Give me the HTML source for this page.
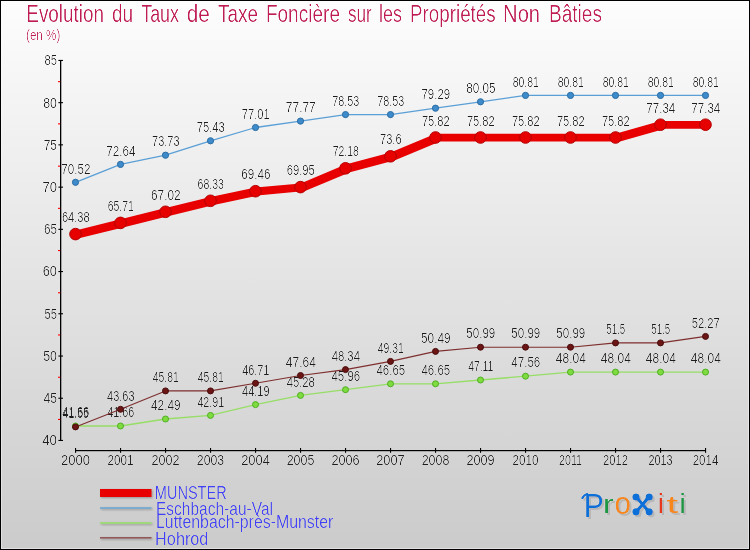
<!DOCTYPE html>
<html lang="fr"><head><meta charset="utf-8">
<title>Evolution du Taux de Taxe Foncière sur les Propriétés Non Bâties</title>
<style>
html,body{margin:0;padding:0;background:#fff;}
body{width:750px;height:550px;overflow:hidden;}
svg{display:block;}
text{font-family:"Liberation Sans", sans-serif;}
.dl{font-size:13.8px;fill:#1c1c1c;text-anchor:middle;}
.ax{font-size:14.3px;fill:#1c1c1c;}
.lg{font-size:18px;fill:#4040f8;}
.tt{fill:#bf1e56;}
</style></head><body>
<svg width="750" height="550" viewBox="0 0 750 550">
<defs>
<linearGradient id="bg" x1="0" y1="0" x2="0" y2="1"><stop offset="0" stop-color="#fdfdfd"/><stop offset="1" stop-color="#cbcbcb"/></linearGradient>
<filter id="sh" filterUnits="userSpaceOnUse" x="0" y="0" width="750" height="550"><feGaussianBlur in="SourceAlpha" stdDeviation="0.8"/><feOffset dx="1" dy="1.2"/><feComponentTransfer><feFuncA type="linear" slope="0.3"/></feComponentTransfer><feMerge><feMergeNode/><feMergeNode in="SourceGraphic"/></feMerge></filter>
<filter id="shl" filterUnits="userSpaceOnUse" x="0" y="0" width="750" height="550"><feGaussianBlur in="SourceAlpha" stdDeviation="0.7"/><feOffset dx="1" dy="1"/><feComponentTransfer><feFuncA type="linear" slope="0.18"/></feComponentTransfer><feMerge><feMergeNode/><feMergeNode in="SourceGraphic"/></feMerge></filter>
<filter id="sh2" filterUnits="userSpaceOnUse" x="560" y="480" width="150" height="60"><feComponentTransfer in="SourceGraphic" result="t"><feFuncA type="linear" slope="1.25" intercept="-0.25"/></feComponentTransfer><feGaussianBlur in="t" stdDeviation="0.7"/><feOffset dx="1.6" dy="1.6"/><feComponentTransfer><feFuncR type="linear" slope="0" intercept="0.2"/><feFuncG type="linear" slope="0" intercept="0.2"/><feFuncB type="linear" slope="0" intercept="0.2"/><feFuncA type="linear" slope="0.28"/></feComponentTransfer><feMerge><feMergeNode/><feMergeNode in="t"/></feMerge></filter>
<filter id="thin" filterUnits="userSpaceOnUse" x="0" y="0" width="750" height="550"><feComponentTransfer><feFuncA type="linear" slope="1.5" intercept="-0.5"/></feComponentTransfer></filter>
<filter id="thin2" filterUnits="userSpaceOnUse" x="0" y="0" width="750" height="550"><feComponentTransfer><feFuncA type="linear" slope="1.5" intercept="-0.5"/></feComponentTransfer></filter>
</defs>
<rect x="0" y="0" width="750" height="550" fill="#000"/>
<rect x="1" y="1" width="748" height="548" fill="url(#bg)"/>
<rect x="1.5" y="1.5" width="747" height="547" fill="none" stroke="#fff" stroke-width="1" opacity="0.4"/>
<g filter="url(#thin2)" class="tt" font-size="23">
<text x="26.30" y="21.7" textLength="77.69" lengthAdjust="spacingAndGlyphs">Evolution</text>
<text x="112.00" y="21.7" textLength="21.22" lengthAdjust="spacingAndGlyphs">du</text>
<text x="141.20" y="21.7" textLength="37.81" lengthAdjust="spacingAndGlyphs">Taux</text>
<text x="186.80" y="21.7" textLength="23.04" lengthAdjust="spacingAndGlyphs">de</text>
<text x="218.00" y="21.7" textLength="39.97" lengthAdjust="spacingAndGlyphs">Taxe</text>
<text x="265.90" y="21.7" textLength="74.11" lengthAdjust="spacingAndGlyphs">Foncière</text>
<text x="348.00" y="21.7" textLength="23.82" lengthAdjust="spacingAndGlyphs">sur</text>
<text x="379.05" y="21.7" textLength="22.98" lengthAdjust="spacingAndGlyphs">les</text>
<text x="410.05" y="21.7" textLength="85.57" lengthAdjust="spacingAndGlyphs">Propriétés</text>
<text x="503.10" y="21.7" textLength="36.92" lengthAdjust="spacingAndGlyphs">Non</text>
<text x="548.90" y="21.7" textLength="53.11" lengthAdjust="spacingAndGlyphs">Bâties</text>
</g>
<g filter="url(#thin2)" class="tt" font-size="15">
<text x="26" y="40.4" textLength="34.3" lengthAdjust="spacingAndGlyphs">(en %)</text>
</g>
<g fill="#000">
<rect x="60" y="60" width="1.3" height="381"/>
<rect x="75" y="450" width="631" height="1.2"/>
<rect x="58.4" y="439.9" width="4.6" height="1.1"/>
<rect x="58.4" y="397.7" width="4.6" height="1.1"/>
<rect x="58.4" y="355.5" width="4.6" height="1.1"/>
<rect x="58.4" y="313.2" width="4.6" height="1.1"/>
<rect x="58.4" y="271.0" width="4.6" height="1.1"/>
<rect x="58.4" y="228.8" width="4.6" height="1.1"/>
<rect x="58.4" y="186.6" width="4.6" height="1.1"/>
<rect x="58.4" y="144.3" width="4.6" height="1.1"/>
<rect x="58.4" y="102.1" width="4.6" height="1.1"/>
<rect x="58.4" y="59.9" width="4.6" height="1.1"/>
<rect x="75.0" y="448" width="1.1" height="4.8"/>
<rect x="120.0" y="448" width="1.1" height="4.8"/>
<rect x="165.0" y="448" width="1.1" height="4.8"/>
<rect x="210.0" y="448" width="1.1" height="4.8"/>
<rect x="255.0" y="448" width="1.1" height="4.8"/>
<rect x="300.0" y="448" width="1.1" height="4.8"/>
<rect x="345.0" y="448" width="1.1" height="4.8"/>
<rect x="390.0" y="448" width="1.1" height="4.8"/>
<rect x="435.0" y="448" width="1.1" height="4.8"/>
<rect x="480.0" y="448" width="1.1" height="4.8"/>
<rect x="525.0" y="448" width="1.1" height="4.8"/>
<rect x="570.0" y="448" width="1.1" height="4.8"/>
<rect x="615.0" y="448" width="1.1" height="4.8"/>
<rect x="660.0" y="448" width="1.1" height="4.8"/>
<rect x="705.0" y="448" width="1.1" height="4.8"/>
</g>
<g fill="#f00">
<rect x="58" y="418.9" width="2.2" height="1.1"/>
<rect x="58" y="376.7" width="2.2" height="1.1"/>
<rect x="58" y="334.4" width="2.2" height="1.1"/>
<rect x="58" y="292.2" width="2.2" height="1.1"/>
<rect x="58" y="250.0" width="2.2" height="1.1"/>
<rect x="58" y="207.8" width="2.2" height="1.1"/>
<rect x="58" y="165.6" width="2.2" height="1.1"/>
<rect x="58" y="123.3" width="2.2" height="1.1"/>
<rect x="58" y="81.1" width="2.2" height="1.1"/>
</g>
<g filter="url(#thin)">
<text class="ax" x="57" y="445.3" text-anchor="end" textLength="14.8" lengthAdjust="spacingAndGlyphs">40</text>
<text class="ax" x="57" y="403.1" text-anchor="end" textLength="13.5" lengthAdjust="spacingAndGlyphs">45</text>
<text class="ax" x="57" y="360.9" text-anchor="end" textLength="13.8" lengthAdjust="spacingAndGlyphs">50</text>
<text class="ax" x="57" y="318.6" text-anchor="end" textLength="12.5" lengthAdjust="spacingAndGlyphs">55</text>
<text class="ax" x="57" y="276.4" text-anchor="end" textLength="14.3" lengthAdjust="spacingAndGlyphs">60</text>
<text class="ax" x="57" y="234.2" text-anchor="end" textLength="13.0" lengthAdjust="spacingAndGlyphs">65</text>
<text class="ax" x="57" y="192.0" text-anchor="end" textLength="14.6" lengthAdjust="spacingAndGlyphs">70</text>
<text class="ax" x="57" y="149.7" text-anchor="end" textLength="13.3" lengthAdjust="spacingAndGlyphs">75</text>
<text class="ax" x="57" y="107.5" text-anchor="end" textLength="13.8" lengthAdjust="spacingAndGlyphs">80</text>
<text class="ax" x="57" y="65.3" text-anchor="end" textLength="12.5" lengthAdjust="spacingAndGlyphs">85</text>
<text class="ax" x="75.5" y="465.4" text-anchor="middle" textLength="29.0" lengthAdjust="spacingAndGlyphs">2000</text>
<text class="ax" x="120.5" y="465.4" text-anchor="middle" textLength="26.0" lengthAdjust="spacingAndGlyphs">2001</text>
<text class="ax" x="165.5" y="465.4" text-anchor="middle" textLength="28.0" lengthAdjust="spacingAndGlyphs">2002</text>
<text class="ax" x="210.5" y="465.4" text-anchor="middle" textLength="27.3" lengthAdjust="spacingAndGlyphs">2003</text>
<text class="ax" x="255.5" y="465.4" text-anchor="middle" textLength="28.7" lengthAdjust="spacingAndGlyphs">2004</text>
<text class="ax" x="300.5" y="465.4" text-anchor="middle" textLength="27.7" lengthAdjust="spacingAndGlyphs">2005</text>
<text class="ax" x="345.5" y="465.4" text-anchor="middle" textLength="28.2" lengthAdjust="spacingAndGlyphs">2006</text>
<text class="ax" x="390.5" y="465.4" text-anchor="middle" textLength="28.5" lengthAdjust="spacingAndGlyphs">2007</text>
<text class="ax" x="435.5" y="465.4" text-anchor="middle" textLength="27.7" lengthAdjust="spacingAndGlyphs">2008</text>
<text class="ax" x="480.5" y="465.4" text-anchor="middle" textLength="28.2" lengthAdjust="spacingAndGlyphs">2009</text>
<text class="ax" x="525.5" y="465.4" text-anchor="middle" textLength="26.0" lengthAdjust="spacingAndGlyphs">2010</text>
<text class="ax" x="570.5" y="465.4" text-anchor="middle" textLength="22.9" lengthAdjust="spacingAndGlyphs">2011</text>
<text class="ax" x="615.5" y="465.4" text-anchor="middle" textLength="24.9" lengthAdjust="spacingAndGlyphs">2012</text>
<text class="ax" x="660.5" y="465.4" text-anchor="middle" textLength="24.2" lengthAdjust="spacingAndGlyphs">2013</text>
<text class="ax" x="705.5" y="465.4" text-anchor="middle" textLength="25.7" lengthAdjust="spacingAndGlyphs">2014</text>
</g>
<g>
<path d="M75.5 230.4L120.5 219.2L125.0 219.2L125.0 226.9L80.0 238.1L75.5 238.1ZM120.5 219.2L165.5 208.1L170.0 208.1L170.0 215.8L125.0 226.9L120.5 226.9ZM165.5 208.1L210.5 197.1L215.0 197.1L215.0 204.8L170.0 215.8L165.5 215.8ZM210.5 197.1L255.5 187.5L260.0 187.5L260.0 195.2L215.0 204.8L210.5 204.8ZM255.5 187.5L300.5 183.4L305.0 183.4L305.0 191.1L260.0 195.2L255.5 195.2ZM300.5 183.4L345.5 164.6L350.0 164.6L350.0 172.3L305.0 191.1L300.5 191.1ZM345.5 164.6L390.5 152.6L395.0 152.6L395.0 160.3L350.0 172.3L345.5 172.3ZM390.5 152.6L435.5 133.8L440.0 133.8L440.0 141.5L395.0 160.3L390.5 160.3ZM435.5 133.8L480.5 133.8L485.0 133.8L485.0 141.5L440.0 141.5L435.5 141.5ZM480.5 133.8L525.5 133.8L530.0 133.8L530.0 141.5L485.0 141.5L480.5 141.5ZM525.5 133.8L570.5 133.8L575.0 133.8L575.0 141.5L530.0 141.5L525.5 141.5ZM570.5 133.8L615.5 133.8L620.0 133.8L620.0 141.5L575.0 141.5L570.5 141.5ZM615.5 133.8L660.5 121.0L665.0 121.0L665.0 128.7L620.0 141.5L615.5 141.5ZM660.5 121.0L705.5 121.0L710.0 121.0L710.0 128.7L665.0 128.7L660.5 128.7Z" fill="#e80000"/>
<circle cx="75.5" cy="234.1" r="5.8" fill="#e60000" stroke="#b40000" stroke-width="1"/>
<circle cx="120.5" cy="222.9" r="5.8" fill="#e60000" stroke="#b40000" stroke-width="1"/>
<circle cx="165.5" cy="211.8" r="5.8" fill="#e60000" stroke="#b40000" stroke-width="1"/>
<circle cx="210.5" cy="200.8" r="5.8" fill="#e60000" stroke="#b40000" stroke-width="1"/>
<circle cx="255.5" cy="191.2" r="5.8" fill="#e60000" stroke="#b40000" stroke-width="1"/>
<circle cx="300.5" cy="187.1" r="5.8" fill="#e60000" stroke="#b40000" stroke-width="1"/>
<circle cx="345.5" cy="168.3" r="5.8" fill="#e60000" stroke="#b40000" stroke-width="1"/>
<circle cx="390.5" cy="156.3" r="5.8" fill="#e60000" stroke="#b40000" stroke-width="1"/>
<circle cx="435.5" cy="137.5" r="5.8" fill="#e60000" stroke="#b40000" stroke-width="1"/>
<circle cx="480.5" cy="137.5" r="5.8" fill="#e60000" stroke="#b40000" stroke-width="1"/>
<circle cx="525.5" cy="137.5" r="5.8" fill="#e60000" stroke="#b40000" stroke-width="1"/>
<circle cx="570.5" cy="137.5" r="5.8" fill="#e60000" stroke="#b40000" stroke-width="1"/>
<circle cx="615.5" cy="137.5" r="5.8" fill="#e60000" stroke="#b40000" stroke-width="1"/>
<circle cx="660.5" cy="124.7" r="5.8" fill="#e60000" stroke="#b40000" stroke-width="1"/>
<circle cx="705.5" cy="124.7" r="5.8" fill="#e60000" stroke="#b40000" stroke-width="1"/>
</g>
<g filter="url(#thin)">
<text class="dl" x="75.8" y="222.1" textLength="27.8" lengthAdjust="spacingAndGlyphs">64.38</text>
<text class="dl" x="120.8" y="210.9" textLength="26.3" lengthAdjust="spacingAndGlyphs">65.71</text>
<text class="dl" x="165.8" y="199.8" textLength="29.6" lengthAdjust="spacingAndGlyphs">67.02</text>
<text class="dl" x="210.8" y="188.8" textLength="26.4" lengthAdjust="spacingAndGlyphs">68.33</text>
<text class="dl" x="255.8" y="179.2" textLength="29.2" lengthAdjust="spacingAndGlyphs">69.46</text>
<text class="dl" x="300.8" y="175.1" textLength="28.2" lengthAdjust="spacingAndGlyphs">69.95</text>
<text class="dl" x="345.8" y="156.3" textLength="26.1" lengthAdjust="spacingAndGlyphs">72.18</text>
<text class="dl" x="390.8" y="144.3" textLength="21.6" lengthAdjust="spacingAndGlyphs">73.6</text>
<text class="dl" x="435.8" y="125.5" textLength="27.8" lengthAdjust="spacingAndGlyphs">75.82</text>
<text class="dl" x="480.8" y="125.5" textLength="27.8" lengthAdjust="spacingAndGlyphs">75.82</text>
<text class="dl" x="525.8" y="125.5" textLength="27.8" lengthAdjust="spacingAndGlyphs">75.82</text>
<text class="dl" x="570.8" y="125.5" textLength="27.8" lengthAdjust="spacingAndGlyphs">75.82</text>
<text class="dl" x="615.8" y="125.5" textLength="27.8" lengthAdjust="spacingAndGlyphs">75.82</text>
<text class="dl" x="660.8" y="112.7" textLength="28.9" lengthAdjust="spacingAndGlyphs">77.34</text>
<text class="dl" x="705.8" y="112.7" textLength="28.9" lengthAdjust="spacingAndGlyphs">77.34</text>
</g>
<g>
<polyline points="75.5,182.3 120.5,164.4 165.5,155.2 210.5,140.8 255.5,127.5 300.5,121.1 345.5,114.6 390.5,114.6 435.5,108.2 480.5,101.8 525.5,95.4 570.5,95.4 615.5,95.4 660.5,95.4 705.5,95.4" fill="none" stroke="#5a9fd6" stroke-width="1.3" stroke-linejoin="round" stroke-linecap="round"/>
<circle cx="75.5" cy="182.3" r="3.1" fill="#3d8bcb" stroke="#2d6da3" stroke-width="1"/>
<circle cx="120.5" cy="164.4" r="3.1" fill="#3d8bcb" stroke="#2d6da3" stroke-width="1"/>
<circle cx="165.5" cy="155.2" r="3.1" fill="#3d8bcb" stroke="#2d6da3" stroke-width="1"/>
<circle cx="210.5" cy="140.8" r="3.1" fill="#3d8bcb" stroke="#2d6da3" stroke-width="1"/>
<circle cx="255.5" cy="127.5" r="3.1" fill="#3d8bcb" stroke="#2d6da3" stroke-width="1"/>
<circle cx="300.5" cy="121.1" r="3.1" fill="#3d8bcb" stroke="#2d6da3" stroke-width="1"/>
<circle cx="345.5" cy="114.6" r="3.1" fill="#3d8bcb" stroke="#2d6da3" stroke-width="1"/>
<circle cx="390.5" cy="114.6" r="3.1" fill="#3d8bcb" stroke="#2d6da3" stroke-width="1"/>
<circle cx="435.5" cy="108.2" r="3.1" fill="#3d8bcb" stroke="#2d6da3" stroke-width="1"/>
<circle cx="480.5" cy="101.8" r="3.1" fill="#3d8bcb" stroke="#2d6da3" stroke-width="1"/>
<circle cx="525.5" cy="95.4" r="3.1" fill="#3d8bcb" stroke="#2d6da3" stroke-width="1"/>
<circle cx="570.5" cy="95.4" r="3.1" fill="#3d8bcb" stroke="#2d6da3" stroke-width="1"/>
<circle cx="615.5" cy="95.4" r="3.1" fill="#3d8bcb" stroke="#2d6da3" stroke-width="1"/>
<circle cx="660.5" cy="95.4" r="3.1" fill="#3d8bcb" stroke="#2d6da3" stroke-width="1"/>
<circle cx="705.5" cy="95.4" r="3.1" fill="#3d8bcb" stroke="#2d6da3" stroke-width="1"/>
</g>
<g filter="url(#thin)">
<text class="dl" x="75.8" y="173.5" textLength="29.1" lengthAdjust="spacingAndGlyphs">70.52</text>
<text class="dl" x="120.8" y="155.6" textLength="29.3" lengthAdjust="spacingAndGlyphs">72.64</text>
<text class="dl" x="165.8" y="146.4" textLength="27.5" lengthAdjust="spacingAndGlyphs">73.73</text>
<text class="dl" x="210.8" y="132.0" textLength="28.1" lengthAdjust="spacingAndGlyphs">75.43</text>
<text class="dl" x="255.8" y="118.7" textLength="27.9" lengthAdjust="spacingAndGlyphs">77.01</text>
<text class="dl" x="300.8" y="112.3" textLength="29.9" lengthAdjust="spacingAndGlyphs">77.77</text>
<text class="dl" x="345.8" y="105.8" textLength="27.1" lengthAdjust="spacingAndGlyphs">78.53</text>
<text class="dl" x="390.8" y="105.8" textLength="27.1" lengthAdjust="spacingAndGlyphs">78.53</text>
<text class="dl" x="435.8" y="99.4" textLength="28.8" lengthAdjust="spacingAndGlyphs">79.29</text>
<text class="dl" x="480.8" y="93.0" textLength="29.3" lengthAdjust="spacingAndGlyphs">80.05</text>
<text class="dl" x="525.8" y="86.6" textLength="26.3" lengthAdjust="spacingAndGlyphs">80.81</text>
<text class="dl" x="570.8" y="86.6" textLength="26.3" lengthAdjust="spacingAndGlyphs">80.81</text>
<text class="dl" x="615.8" y="86.6" textLength="26.3" lengthAdjust="spacingAndGlyphs">80.81</text>
<text class="dl" x="660.8" y="86.6" textLength="26.3" lengthAdjust="spacingAndGlyphs">80.81</text>
<text class="dl" x="705.8" y="86.6" textLength="26.3" lengthAdjust="spacingAndGlyphs">80.81</text>
</g>
<g>
<polyline points="75.5,426.0 120.5,426.0 165.5,419.0 210.5,415.4 255.5,404.6 300.5,395.4 345.5,389.7 390.5,383.8 435.5,383.8 480.5,380.0 525.5,376.2 570.5,372.1 615.5,372.1 660.5,372.1 705.5,372.1" fill="none" stroke="#96de66" stroke-width="1.3" stroke-linejoin="round" stroke-linecap="round"/>
<circle cx="75.5" cy="426.0" r="3.0" fill="#7fdc40" stroke="#4fae22" stroke-width="1"/>
<circle cx="120.5" cy="426.0" r="3.0" fill="#7fdc40" stroke="#4fae22" stroke-width="1"/>
<circle cx="165.5" cy="419.0" r="3.0" fill="#7fdc40" stroke="#4fae22" stroke-width="1"/>
<circle cx="210.5" cy="415.4" r="3.0" fill="#7fdc40" stroke="#4fae22" stroke-width="1"/>
<circle cx="255.5" cy="404.6" r="3.0" fill="#7fdc40" stroke="#4fae22" stroke-width="1"/>
<circle cx="300.5" cy="395.4" r="3.0" fill="#7fdc40" stroke="#4fae22" stroke-width="1"/>
<circle cx="345.5" cy="389.7" r="3.0" fill="#7fdc40" stroke="#4fae22" stroke-width="1"/>
<circle cx="390.5" cy="383.8" r="3.0" fill="#7fdc40" stroke="#4fae22" stroke-width="1"/>
<circle cx="435.5" cy="383.8" r="3.0" fill="#7fdc40" stroke="#4fae22" stroke-width="1"/>
<circle cx="480.5" cy="380.0" r="3.0" fill="#7fdc40" stroke="#4fae22" stroke-width="1"/>
<circle cx="525.5" cy="376.2" r="3.0" fill="#7fdc40" stroke="#4fae22" stroke-width="1"/>
<circle cx="570.5" cy="372.1" r="3.0" fill="#7fdc40" stroke="#4fae22" stroke-width="1"/>
<circle cx="615.5" cy="372.1" r="3.0" fill="#7fdc40" stroke="#4fae22" stroke-width="1"/>
<circle cx="660.5" cy="372.1" r="3.0" fill="#7fdc40" stroke="#4fae22" stroke-width="1"/>
<circle cx="705.5" cy="372.1" r="3.0" fill="#7fdc40" stroke="#4fae22" stroke-width="1"/>
</g>
<g filter="url(#thin)">
<text class="dl" x="75.8" y="417.2" textLength="27.0" lengthAdjust="spacingAndGlyphs">41.66</text>
<text class="dl" x="120.8" y="417.2" textLength="27.0" lengthAdjust="spacingAndGlyphs">41.66</text>
<text class="dl" x="165.8" y="410.2" textLength="29.5" lengthAdjust="spacingAndGlyphs">42.49</text>
<text class="dl" x="210.8" y="406.6" textLength="26.8" lengthAdjust="spacingAndGlyphs">42.91</text>
<text class="dl" x="255.8" y="395.8" textLength="27.5" lengthAdjust="spacingAndGlyphs">44.19</text>
<text class="dl" x="300.8" y="386.6" textLength="28.0" lengthAdjust="spacingAndGlyphs">45.28</text>
<text class="dl" x="345.8" y="380.9" textLength="28.7" lengthAdjust="spacingAndGlyphs">45.96</text>
<text class="dl" x="390.8" y="375.0" textLength="28.7" lengthAdjust="spacingAndGlyphs">46.65</text>
<text class="dl" x="435.8" y="375.0" textLength="28.7" lengthAdjust="spacingAndGlyphs">46.65</text>
<text class="dl" x="480.8" y="371.2" textLength="25.1" lengthAdjust="spacingAndGlyphs">47.11</text>
<text class="dl" x="525.8" y="367.4" textLength="29.0" lengthAdjust="spacingAndGlyphs">47.56</text>
<text class="dl" x="570.8" y="363.3" textLength="30.0" lengthAdjust="spacingAndGlyphs">48.04</text>
<text class="dl" x="615.8" y="363.3" textLength="30.0" lengthAdjust="spacingAndGlyphs">48.04</text>
<text class="dl" x="660.8" y="363.3" textLength="30.0" lengthAdjust="spacingAndGlyphs">48.04</text>
<text class="dl" x="705.8" y="363.3" textLength="30.0" lengthAdjust="spacingAndGlyphs">48.04</text>
</g>
<g>
<polyline points="75.5,426.9 120.5,409.3 165.5,390.9 210.5,390.9 255.5,383.3 300.5,375.5 345.5,369.6 390.5,361.4 435.5,351.4 480.5,347.2 525.5,347.2 570.5,347.2 615.5,342.9 660.5,342.9 705.5,336.4" fill="none" stroke="#7e2e2e" stroke-width="1.1" stroke-linejoin="round" stroke-linecap="round"/>
<circle cx="75.5" cy="426.9" r="3.0" fill="#6b1515" stroke="#4a0c0c" stroke-width="1"/>
<circle cx="120.5" cy="409.3" r="3.0" fill="#6b1515" stroke="#4a0c0c" stroke-width="1"/>
<circle cx="165.5" cy="390.9" r="3.0" fill="#6b1515" stroke="#4a0c0c" stroke-width="1"/>
<circle cx="210.5" cy="390.9" r="3.0" fill="#6b1515" stroke="#4a0c0c" stroke-width="1"/>
<circle cx="255.5" cy="383.3" r="3.0" fill="#6b1515" stroke="#4a0c0c" stroke-width="1"/>
<circle cx="300.5" cy="375.5" r="3.0" fill="#6b1515" stroke="#4a0c0c" stroke-width="1"/>
<circle cx="345.5" cy="369.6" r="3.0" fill="#6b1515" stroke="#4a0c0c" stroke-width="1"/>
<circle cx="390.5" cy="361.4" r="3.0" fill="#6b1515" stroke="#4a0c0c" stroke-width="1"/>
<circle cx="435.5" cy="351.4" r="3.0" fill="#6b1515" stroke="#4a0c0c" stroke-width="1"/>
<circle cx="480.5" cy="347.2" r="3.0" fill="#6b1515" stroke="#4a0c0c" stroke-width="1"/>
<circle cx="525.5" cy="347.2" r="3.0" fill="#6b1515" stroke="#4a0c0c" stroke-width="1"/>
<circle cx="570.5" cy="347.2" r="3.0" fill="#6b1515" stroke="#4a0c0c" stroke-width="1"/>
<circle cx="615.5" cy="342.9" r="3.0" fill="#6b1515" stroke="#4a0c0c" stroke-width="1"/>
<circle cx="660.5" cy="342.9" r="3.0" fill="#6b1515" stroke="#4a0c0c" stroke-width="1"/>
<circle cx="705.5" cy="336.4" r="3.0" fill="#6b1515" stroke="#4a0c0c" stroke-width="1"/>
</g>
<g filter="url(#thin)">
<text class="dl" x="75.8" y="418.1" textLength="26.0" lengthAdjust="spacingAndGlyphs">41.55</text>
<text class="dl" x="120.8" y="400.5" textLength="27.4" lengthAdjust="spacingAndGlyphs">43.63</text>
<text class="dl" x="165.8" y="382.1" textLength="26.0" lengthAdjust="spacingAndGlyphs">45.81</text>
<text class="dl" x="210.8" y="382.1" textLength="26.0" lengthAdjust="spacingAndGlyphs">45.81</text>
<text class="dl" x="255.8" y="374.5" textLength="27.3" lengthAdjust="spacingAndGlyphs">46.71</text>
<text class="dl" x="300.8" y="366.7" textLength="30.0" lengthAdjust="spacingAndGlyphs">47.64</text>
<text class="dl" x="345.8" y="360.8" textLength="28.3" lengthAdjust="spacingAndGlyphs">48.34</text>
<text class="dl" x="390.8" y="352.6" textLength="26.1" lengthAdjust="spacingAndGlyphs">49.31</text>
<text class="dl" x="435.8" y="342.6" textLength="29.5" lengthAdjust="spacingAndGlyphs">50.49</text>
<text class="dl" x="480.8" y="338.4" textLength="29.0" lengthAdjust="spacingAndGlyphs">50.99</text>
<text class="dl" x="525.8" y="338.4" textLength="29.0" lengthAdjust="spacingAndGlyphs">50.99</text>
<text class="dl" x="570.8" y="338.4" textLength="29.0" lengthAdjust="spacingAndGlyphs">50.99</text>
<text class="dl" x="615.8" y="334.1" textLength="19.0" lengthAdjust="spacingAndGlyphs">51.5</text>
<text class="dl" x="660.8" y="334.1" textLength="19.0" lengthAdjust="spacingAndGlyphs">51.5</text>
<text class="dl" x="705.8" y="327.6" textLength="28.1" lengthAdjust="spacingAndGlyphs">52.27</text>
</g>
<g filter="url(#sh)">
<rect x="100" y="489.00" width="51.5" height="8.0" fill="#e80000"/>
<rect x="100" y="507.20" width="51.5" height="1.6" fill="#6fa6d2"/>
<rect x="100" y="522.20" width="51.5" height="1.6" fill="#98dc6c"/>
<rect x="100" y="537.00" width="51.5" height="1.6" fill="#905858"/>
</g>
<g filter="url(#thin2)">
<text class="lg" x="154.85" y="498.5" textLength="71.77" lengthAdjust="spacingAndGlyphs">MUNSTER</text>
<text class="lg" x="156.00" y="514.5" textLength="116.96" lengthAdjust="spacingAndGlyphs">Eschbach-au-Val</text>
<text class="lg" x="156.00" y="527.8" textLength="177.25" lengthAdjust="spacingAndGlyphs">Luttenbach-près-Munster</text>
<text class="lg" x="155.10" y="544.5" textLength="53.33" lengthAdjust="spacingAndGlyphs">Hohrod</text>
</g>
<g filter="url(#sh2)">
<path d="M582.4 498C583.3 496 584.8 494.6 587 494" fill="none" stroke="#0b6fd8" stroke-width="2.3" stroke-linecap="round"/>
<text x="583.8" y="517.4" font-size="34" fill="#0b6fd8" textLength="20" lengthAdjust="spacingAndGlyphs">P</text>
<text x="603" y="513" font-size="25.5" fill="#1a9641" textLength="10.6" lengthAdjust="spacingAndGlyphs">r</text>
<text x="614.6" y="513.5" font-size="31" fill="#f7861c" textLength="16.4" lengthAdjust="spacingAndGlyphs">o</text>
<text x="636.6" y="510.6" font-size="24" fill="#0b6fd8">x</text>
<path d="M636 497L649.2 511.8M649.2 497L636 511.8" stroke="#0b6fd8" stroke-width="3.0" stroke-linecap="round"/>
<circle cx="636.0" cy="497.0" r="3.6" fill="#0b6fd8"/>
<circle cx="636.0" cy="511.8" r="3.6" fill="#0b6fd8"/>
<circle cx="649.2" cy="497.0" r="3.6" fill="#0b6fd8"/>
<circle cx="649.2" cy="511.8" r="3.6" fill="#0b6fd8"/>
<text x="657.8" y="513.4" font-size="28" fill="#e8381a">i</text>
<text x="666.2" y="513.2" font-size="24.5" fill="#f7861c" textLength="12" lengthAdjust="spacingAndGlyphs">t</text>
<text x="679.5" y="513.4" font-size="28" fill="#1a9641">i</text>
</g>
</svg>
</body></html>
